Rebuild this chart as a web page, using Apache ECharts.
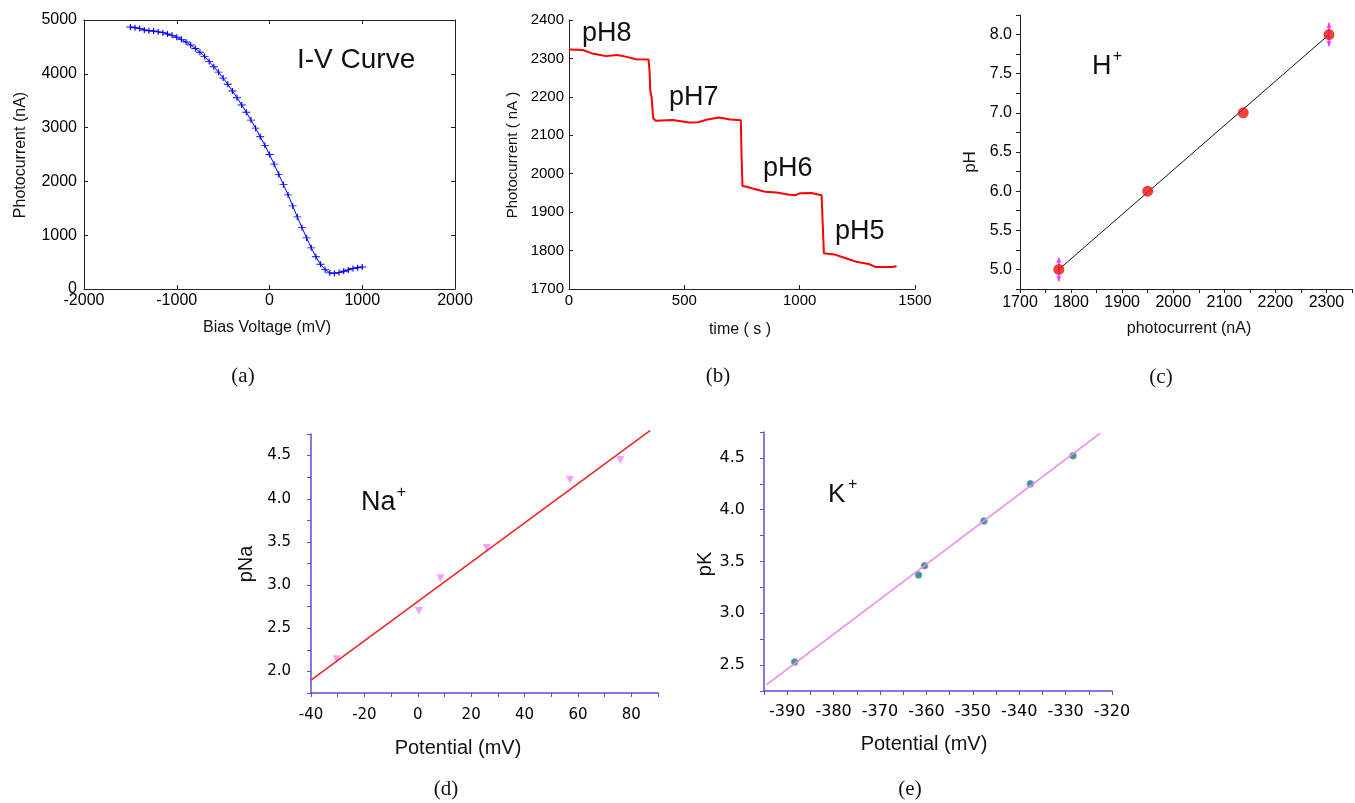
<!DOCTYPE html>
<html>
<head>
<meta charset="utf-8">
<script src="https://cdn.jsdelivr.net/npm/echarts@6/dist/echarts.min.js"></script>
<style>
  html, body { margin: 0; padding: 0; background: #fff; }
  #main { width: 1355px; height: 803px; }
</style>
</head>
<body>
<div id="main"></div>
<script>
// (a) I-V curve
const ivVoltage = [-1500, -1450, -1400, -1350, -1300, -1250, -1200, -1150, -1100, -1050,
  -1000, -950, -900, -850, -800, -750, -700, -650, -600, -550,
  -500, -450, -400, -350, -300, -250, -200, -150, -100, -50,
  0, 50, 100, 150, 200, 250, 300, 350, 400, 450,
  500, 550, 600, 650, 700, 750, 800, 850, 900, 950, 1000]
const ivCurrent = [4870, 4855, 4840, 4815, 4800, 4795, 4780, 4765, 4740, 4715,
  4680, 4640, 4590, 4535, 4470, 4400, 4320, 4230, 4130, 4030,
  3920, 3805, 3680, 3555, 3420, 3285, 3140, 2990, 2830, 2670,
  2500, 2320, 2130, 1940, 1750, 1545, 1340, 1140, 950, 765,
  600, 460, 360, 300, 290, 305, 330, 355, 380, 395, 410]

// (b) photocurrent vs time
const phTime = [0, 60, 100, 125, 160, 210, 250, 290, 345, 350, 352, 358, 365, 375, 450, 520, 560, 600, 650, 700,
  745, 748, 752, 770, 800, 850, 900, 950, 980, 1000, 1050, 1095, 1100, 1105, 1150, 1200, 1250, 1300, 1330, 1400, 1420]
const phCurrent = [2323, 2322, 2313, 2310, 2306, 2309, 2304, 2298, 2297, 2260, 2218, 2200, 2145, 2138, 2140, 2133, 2134, 2141, 2146, 2141,
  2139, 2050, 1968, 1966, 1961, 1953, 1951, 1946, 1944, 1949, 1950, 1944, 1870, 1793, 1790, 1780, 1770, 1765, 1757, 1757, 1759]

// (c) pH calibration
const hCurrent = [1776, 1950, 2137, 2305]
const hPH = [5.0, 6.0, 7.0, 8.0]
const hFitX = [1776, 2305]
const hFitY = [5.0, 8.0]
const hErrX = [1776, 2305]
const hErrLow = [4.85, 7.85]
const hErrHigh = [5.15, 8.15]

// (d) Na+
const naPot = [-30.4, 0.4, 8.5, 25.9, 57.0, 75.9]
const naP = [2.14, 2.70, 3.08, 3.43, 4.22, 4.45]
const naFitX = [-40, 87]
const naFitY = [1.90, 4.79]

// (e) K+
const kPot = [-388.4, -361.7, -360.4, -347.6, -337.6, -328.4]
const kP = [2.53, 3.37, 3.46, 3.89, 4.25, 4.52]
const kFitX = [-394.5, -322.5]
const kFitY = [2.31, 4.74]

const zip = (a, b) => a.map((v, i) => [v, b[i]])
const onStep = (v, step) => Math.abs(v / step - Math.round(v / step)) < 1e-6
const plain = v => String(v)
const arial = 'Liberation Sans'
const verd = 'DejaVu Sans'
const blue = '#5252d8'

let chart = echarts.init(document.getElementById('main'))

// plain axis builder, every panel differs a bit
function axis(o) {
  return {
    type: 'value',
    gridIndex: o.grid,
    position: o.pos,
    min: o.min, max: o.max, interval: o.interval,
    splitLine: { show: false },
    axisLine: { show: true, onZero: false, lineStyle: { color: o.color || '#222', width: o.lw || 1 } },
    axisTick: { show: true, inside: !!o.inside, length: o.tick || 4, lineStyle: { color: o.color || '#222' } },
    axisLabel: {
      show: o.label !== false,
      margin: o.margin,
      fontSize: o.fs || 15,
      fontFamily: o.font || arial,
      color: '#000',
      formatter: o.fmt || plain
    }
  }
}

let text = (x, y, s, font, extra) => Object.assign({
  type: 'text', x: x, y: y,
  style: { text: s, font: font, fill: '#111', align: 'center', verticalAlign: 'middle' }
}, extra || {})
let ytext = (x, y, s, font) => text(x, y, s, font, { rotation: Math.PI / 2 })
let ltext = (x, y, s, font) => {
  let t = text(x, y, s, font)
  t.style.align = 'left'
  return t
}

let option = {
  animation: false,
  backgroundColor: '#fff',
  grid: [
    { left: 84, top: 20, width: 371, height: 269 },
    { left: 569, top: 20, width: 346, height: 269 },
    { left: 1020, top: 15, width: 339, height: 274 },
    { left: 311, top: 434, width: 347, height: 259 },
    { left: 764, top: 432, width: 348, height: 259 }
  ],
  xAxis: [
    axis({ grid: 0, pos: 'bottom', min: -2000, max: 2000, interval: 1000, inside: true, margin: 4, fs: 16 }),
    axis({ grid: 0, pos: 'top', min: -2000, max: 2000, interval: 1000, inside: true, label: false }),
    axis({ grid: 1, pos: 'bottom', min: 0, max: 1500, interval: 500, inside: true, margin: 4, fs: 15 }),
    axis({ grid: 2, pos: 'bottom', min: 1700, max: 2350, interval: 50, margin: 6, fs: 16,
      fmt: v => onStep(v, 100) ? String(v) : '' }),
    axis({ grid: 3, pos: 'bottom', min: -40, max: 90, interval: 10, margin: 15, fs: 15, font: verd,
      color: blue, lw: 1.5, fmt: v => onStep(v, 20) ? String(v) : '' }),
    axis({ grid: 4, pos: 'bottom', min: -395, max: -320, interval: 5, margin: 13, fs: 16, font: verd,
      color: blue, lw: 1.5, fmt: v => onStep(v, 10) ? String(v) : '' })
  ],
  yAxis: [
    axis({ grid: 0, pos: 'left', min: 0, max: 5000, interval: 1000, inside: true, margin: 7, fs: 16 }),
    axis({ grid: 0, pos: 'right', min: 0, max: 5000, interval: 1000, inside: true, label: false }),
    axis({ grid: 1, pos: 'left', min: 1700, max: 2400, interval: 100, inside: true, margin: 5, fs: 15 }),
    axis({ grid: 2, pos: 'left', min: 4.75, max: 8.25, interval: 0.25, margin: 8, fs: 16,
      fmt: v => onStep(v, 0.5) ? v.toFixed(1) : '' }),
    axis({ grid: 3, pos: 'left', min: 1.75, max: 4.75, interval: 0.25, margin: 20, fs: 15, font: verd,
      color: blue, lw: 1.5, fmt: v => onStep(v, 0.5) ? v.toFixed(1) : '' }),
    axis({ grid: 4, pos: 'left', min: 2.25, max: 4.75, interval: 0.25, margin: 19, fs: 16, font: verd,
      color: blue, lw: 1.5, fmt: v => onStep(v, 0.5) ? v.toFixed(1) : '' })
  ],
  series: [
    {
      type: 'line', xAxisIndex: 0, yAxisIndex: 0,
      data: zip(ivVoltage, ivCurrent),
      showAllSymbol: true,
      symbol: 'path://M0 5 L10 5 M5 0 L5 10',
      symbolSize: [8, 6],
      lineStyle: { color: '#0000ff', width: 1 },
      itemStyle: { color: 'rgba(0,0,0,0)', borderColor: '#0000ff', borderWidth: 1 }
    },
    {
      type: 'line', xAxisIndex: 2, yAxisIndex: 2,
      data: zip(phTime, phCurrent),
      symbol: 'none',
      lineStyle: { color: '#ff0000', width: 2 }
    },
    {
      type: 'line', xAxisIndex: 3, yAxisIndex: 3, z: 2,
      data: zip(hFitX, hFitY),
      symbol: 'none',
      lineStyle: { color: '#111', width: 1 }
    },
    {
      type: 'custom', xAxisIndex: 3, yAxisIndex: 3, z: 3,
      data: hErrX.map((x, i) => [x, hErrLow[i], hErrHigh[i]]),
      renderItem: function (params, api) {
        let lo = api.coord([api.value(0), api.value(1)])
        let hi = api.coord([api.value(0), api.value(2)])
        let c = '#ff33ff'
        return {
          type: 'group',
          children: [
            { type: 'line', shape: { x1: lo[0], y1: lo[1], x2: hi[0], y2: hi[1] }, style: { stroke: c, lineWidth: 1.5 } },
            { type: 'polygon', shape: { points: [[hi[0] - 2.5, hi[1] + 5], [hi[0] + 2.5, hi[1] + 5], [hi[0], hi[1]]] }, style: { fill: c } },
            { type: 'polygon', shape: { points: [[lo[0] - 2.5, lo[1] - 5], [lo[0] + 2.5, lo[1] - 5], [lo[0], lo[1]]] }, style: { fill: c } }
          ]
        }
      }
    },
    {
      type: 'scatter', xAxisIndex: 3, yAxisIndex: 3, z: 4,
      data: zip(hCurrent, hPH),
      symbolSize: 11,
      itemStyle: { color: '#ee1111' }
    },
    {
      type: 'line', xAxisIndex: 4, yAxisIndex: 4, clip: false,
      data: zip(naFitX, naFitY),
      symbol: 'none',
      lineStyle: { color: '#ee2222', width: 1.5 }
    },
    {
      type: 'scatter', xAxisIndex: 4, yAxisIndex: 4,
      data: zip(naPot, naP),
      symbol: 'triangle', symbolRotate: 180, symbolSize: 8,
      itemStyle: { color: '#f08cf0' }
    },
    {
      type: 'line', xAxisIndex: 5, yAxisIndex: 5,
      data: zip(kFitX, kFitY),
      symbol: 'none',
      lineStyle: { color: '#ee88ee', width: 1.5 }
    },
    {
      type: 'scatter', xAxisIndex: 5, yAxisIndex: 5,
      data: zip(kPot, kP),
      symbolSize: 7,
      itemStyle: { color: '#0e7c7b', borderColor: '#9ab3c0', borderWidth: 1 }
    }
  ],
  graphic: [
    // axis titles
    ytext(20.5, 155, 'Photocurrent (nA)', '16px ' + arial),
    text(267, 328, 'Bias Voltage (mV)', '16px ' + arial),
    ytext(512.5, 155, 'Photocurrent ( nA )', '15px ' + arial),
    text(740, 330, 'time ( s )', '16px ' + arial),
    ytext(970.5, 162, 'pH', '17px ' + arial),
    text(1189, 329, 'photocurrent (nA)', '16px ' + arial),
    ytext(246.5, 564, 'pNa', '20px ' + arial),
    text(458, 748, 'Potential (mV)', '20px ' + arial),
    ytext(705.5, 564, 'pK', '20px ' + arial),
    text(924, 744, 'Potential (mV)', '20px ' + arial),
    // panel annotations
    ltext(297, 60, 'I-V Curve', '28px ' + arial),
    ltext(582, 34, 'pH8', '27px ' + arial),
    ltext(669, 98, 'pH7', '27px ' + arial),
    ltext(763, 169, 'pH6', '27px ' + arial),
    ltext(835, 232, 'pH5', '27px ' + arial),
    ltext(1092, 67, 'H', '27px ' + arial),
    text(1117.5, 57, '+', '16px ' + arial),
    ltext(361, 503, 'Na', '27px ' + arial),
    text(401.5, 493, '+', '16px ' + arial),
    ltext(828, 495, 'K', '26px ' + arial),
    text(852.7, 485, '+', '16px ' + arial),
    // captions
    text(243, 376, '(a)', '21px Liberation Serif'),
    text(718, 376, '(b)', '21px Liberation Serif'),
    text(1161, 377, '(c)', '21px Liberation Serif'),
    text(446, 789, '(d)', '21px Liberation Serif'),
    text(910, 789, '(e)', '21px Liberation Serif')
  ]
}

chart.setOption(option)
</script>
</body>
</html>
